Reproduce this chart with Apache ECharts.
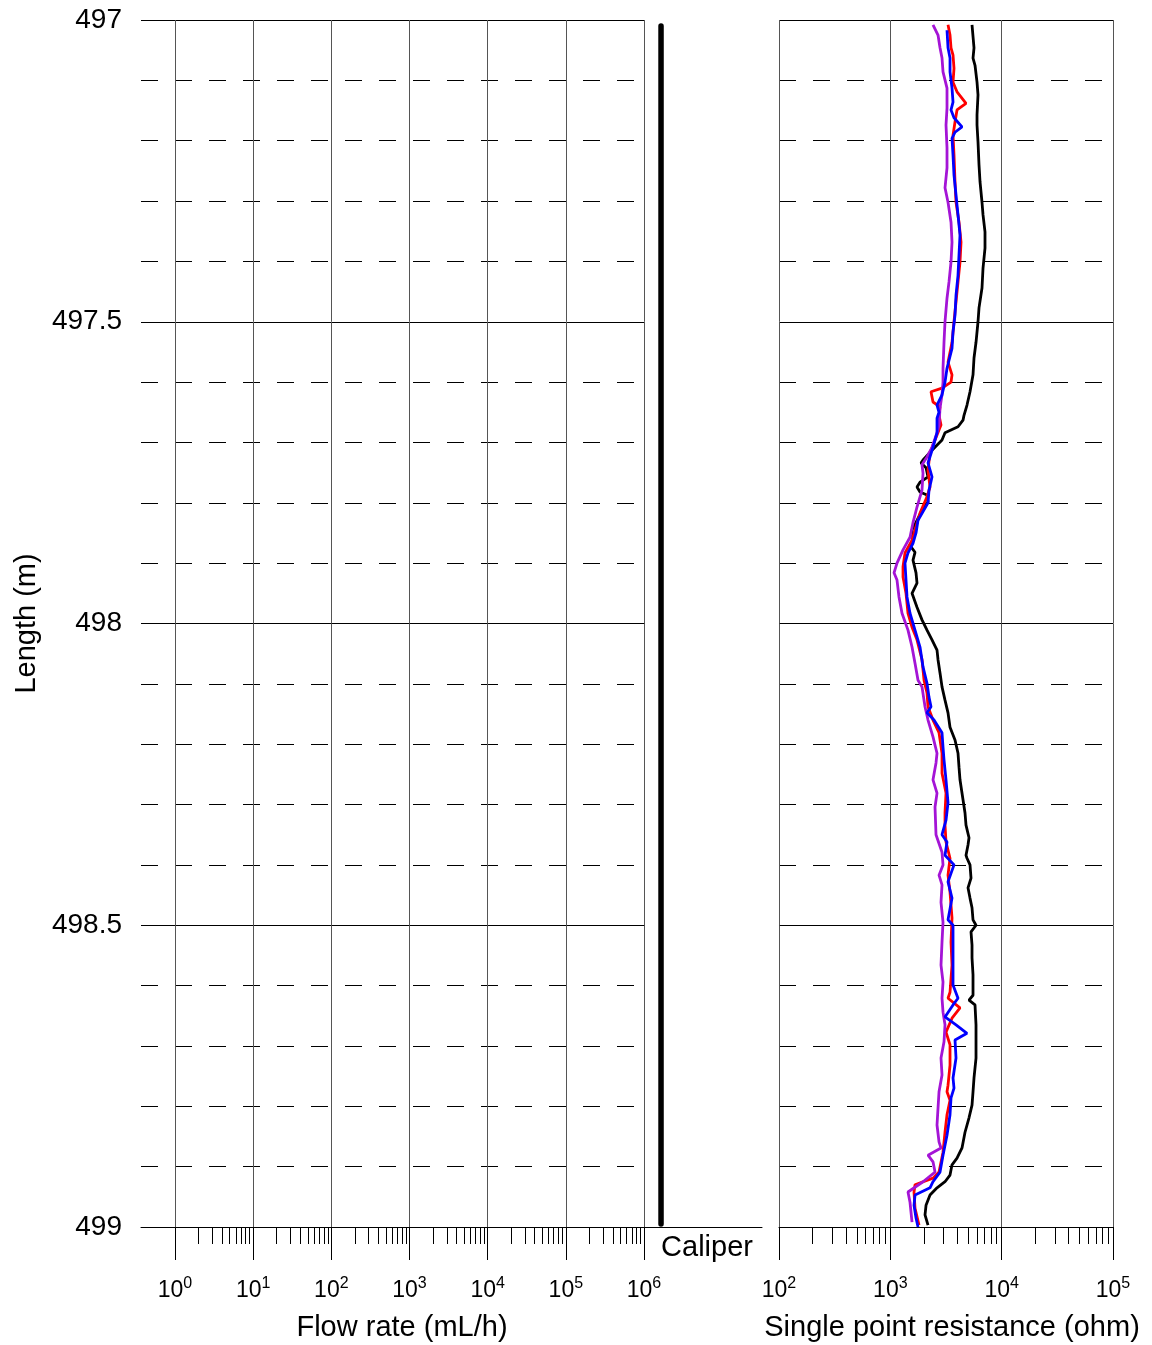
<!DOCTYPE html>
<html>
<head>
<meta charset="utf-8">
<script src="https://cdn.jsdelivr.net/npm/echarts@6/dist/echarts.min.js"></script>
<style>
  html, body { margin: 0; padding: 0; background: #fff; }
  #chart { width: 1152px; height: 1345px; }
</style>
</head>
<body>
<div id="chart"></div>
<script>
// depth (m) / single point resistance (ohm)
const blackDepth = [497.008, 497.046, 497.063, 497.075, 497.103, 497.124, 497.157, 497.174, 497.202, 497.240, 497.268, 497.302, 497.323, 497.351, 497.378, 497.411, 497.444, 497.477, 497.500, 497.534, 497.560, 497.588, 497.616, 497.638, 497.655, 497.663, 497.674, 497.684, 497.696, 497.713, 497.729, 497.734, 497.742, 497.757, 497.766, 497.774, 497.782, 497.787, 497.799, 497.812, 497.829, 497.845, 497.862, 497.873, 497.882, 497.895, 497.916, 497.933, 497.950, 497.973, 497.994, 498.011, 498.027, 498.044, 498.060, 498.082, 498.105, 498.127, 498.148, 498.172, 498.193, 498.215, 498.238, 498.259, 498.292, 498.314, 498.334, 498.355, 498.367, 498.384, 498.389, 498.400, 498.422, 498.438, 498.455, 498.471, 498.491, 498.500, 498.511, 498.533, 498.554, 498.582, 498.616, 498.624, 498.632, 498.665, 498.693, 498.720, 498.753, 498.776, 498.798, 498.819, 498.843, 498.869, 498.886, 498.897, 498.914, 498.925, 498.935, 498.947, 498.964, 498.980, 498.997];
const blackOhm = [5416, 5644, 5529, 5762, 6006, 6131, 6006, 6006, 6131, 6259, 6390, 6658, 6801, 7085, 7085, 6801, 6658, 6259, 6131, 5883, 5644, 5529, 5196, 4883, 4590, 4496, 4054, 3098, 2912, 2368, 1966, 1886, 2092, 2180, 1847, 1736, 1847, 2135, 2180, 1925, 1736, 1566, 1598, 1534, 1666, 1598, 1701, 1736, 1566, 1736, 1925, 2135, 2368, 2626, 2681, 2794, 2912, 3098, 3297, 3436, 3810, 4054, 4139, 4225, 4496, 4686, 4783, 5090, 4985, 4783, 4883, 5196, 5305, 4985, 5196, 5416, 5529, 5883, 5305, 5416, 5416, 5529, 5529, 5090, 5762, 5883, 5883, 5883, 5644, 5529, 5416, 5090, 4686, 4404, 3971, 3581, 3436, 3098, 2626, 2272, 2092, 2049, 2180];

const redDepth = [497.008, 497.025, 497.046, 497.058, 497.080, 497.103, 497.119, 497.138, 497.149, 497.169, 497.191, 497.224, 497.268, 497.302, 497.335, 497.368, 497.401, 497.434, 497.467, 497.500, 497.534, 497.567, 497.588, 497.600, 497.610, 497.616, 497.633, 497.641, 497.655, 497.671, 497.696, 497.717, 497.746, 497.774, 497.790, 497.817, 497.845, 497.862, 497.883, 497.906, 497.923, 497.950, 497.983, 498.006, 498.027, 498.060, 498.094, 498.115, 498.138, 498.160, 498.181, 498.215, 498.248, 498.281, 498.314, 498.334, 498.362, 498.389, 498.417, 498.445, 498.488, 498.528, 498.566, 498.611, 498.621, 498.637, 498.654, 498.677, 498.698, 498.732, 498.765, 498.776, 498.790, 498.814, 498.843, 498.876, 498.909, 498.919, 498.930, 498.942, 498.969, 498.997];
const redOhm = [3297, 3436, 3508, 3656, 3732, 3656, 3971, 4783, 3971, 3810, 3656, 3732, 3810, 3890, 4139, 4314, 4225, 4054, 3890, 3732, 3581, 3297, 3581, 3508, 2912, 2319, 2417, 2794, 2737, 2852, 2520, 2272, 2180, 2272, 2135, 1847, 1666, 1566, 1354, 1300, 1300, 1383, 1441, 1566, 1736, 1925, 2007, 2135, 2180, 2417, 2737, 2912, 2912, 3163, 3098, 3098, 3163, 3436, 3297, 3436, 3581, 3508, 3581, 3436, 3297, 4225, 3581, 3163, 3436, 3436, 3297, 3229, 3436, 3229, 3098, 2973, 2737, 2417, 1666, 1632, 1666, 1810];

const blueDepth = [497.017, 497.046, 497.063, 497.086, 497.113, 497.136, 497.149, 497.162, 497.177, 497.186, 497.196, 497.224, 497.257, 497.290, 497.323, 497.356, 497.389, 497.423, 497.456, 497.489, 497.517, 497.544, 497.577, 497.600, 497.621, 497.638, 497.650, 497.660, 497.684, 497.708, 497.734, 497.757, 497.779, 497.800, 497.829, 497.850, 497.867, 497.883, 497.900, 497.928, 497.956, 497.983, 498.011, 498.039, 498.072, 498.099, 498.122, 498.138, 498.148, 498.160, 498.181, 498.205, 498.226, 498.259, 498.297, 498.326, 498.350, 498.362, 498.384, 498.400, 498.428, 498.455, 498.491, 498.500, 498.528, 498.566, 498.599, 498.621, 498.632, 498.652, 498.665, 498.679, 498.690, 498.720, 498.753, 498.770, 498.786, 498.814, 498.848, 498.881, 498.909, 498.925, 498.935, 498.947, 498.964, 498.985, 499.000];
const blueOhm = [3229, 3297, 3436, 3436, 3581, 3656, 3508, 3732, 4404, 3810, 3581, 3656, 3732, 3890, 4054, 4225, 4139, 4054, 3890, 3810, 3656, 3581, 3229, 3098, 2912, 2626, 2737, 2626, 2626, 2417, 2180, 2368, 2225, 2180, 1773, 1701, 1598, 1441, 1354, 1383, 1412, 1502, 1666, 1847, 1966, 2135, 2225, 2319, 2135, 2468, 2912, 2973, 3035, 3163, 3297, 3163, 2912, 3229, 3098, 3732, 3297, 3581, 3297, 3656, 3656, 3656, 3656, 4054, 3656, 3098, 3890, 4883, 3810, 3890, 3656, 3732, 3508, 3436, 3229, 2973, 2794, 2417, 2272, 1666, 1632, 1701, 1773];

const purpleDepth = [497.008, 497.025, 497.046, 497.063, 497.086, 497.113, 497.146, 497.174, 497.212, 497.245, 497.278, 497.302, 497.335, 497.368, 497.401, 497.434, 497.461, 497.500, 497.534, 497.577, 497.600, 497.621, 497.643, 497.671, 497.684, 497.708, 497.724, 497.737, 497.751, 497.779, 497.807, 497.833, 497.857, 497.878, 497.900, 497.916, 497.928, 497.956, 497.983, 498.011, 498.039, 498.066, 498.094, 498.105, 498.138, 498.160, 498.188, 498.215, 498.231, 498.259, 498.281, 498.304, 498.350, 498.379, 498.400, 498.417, 498.433, 498.462, 498.495, 498.528, 498.566, 498.594, 498.621, 498.644, 498.665, 498.693, 498.720, 498.748, 498.776, 498.803, 498.831, 498.859, 498.869, 498.881, 498.892, 498.909, 498.925, 498.942, 498.959, 498.992];
const purpleOhm = [2417, 2681, 2794, 2912, 2973, 3229, 3229, 3163, 3229, 3229, 3098, 3297, 3508, 3581, 3508, 3365, 3229, 3098, 3035, 2973, 2973, 2912, 2794, 2737, 2626, 2368, 2135, 1925, 1966, 1925, 1736, 1598, 1502, 1300, 1148, 1079, 1148, 1196, 1273, 1441, 1566, 1666, 1773, 1925, 2049, 2180, 2417, 2626, 2572, 2417, 2626, 2520, 2572, 2912, 2973, 2737, 2912, 2852, 2973, 2912, 2852, 2973, 2912, 2973, 3098, 3035, 2852, 2912, 2737, 2681, 2626, 2737, 2852, 2180, 2417, 2520, 1966, 1441, 1502, 1566];

// caliper trace (constant)
const caliperDepth = [497.010, 498.995];
const caliperValue = [0.137, 0.137];

// axis ranges / ticks
const depthRange = [497, 499];
const flowRange = [1, 1e6];
const spRange = [100, 1e5];
const minorMant = [2, 3, 4, 5, 6, 7, 8, 9];

const FONT = '"Liberation Sans", Arial, Helvetica, sans-serif';

function pairs(xs, ys) {
  let out = [];
  for (let i = 0; i < Math.min(xs.length, ys.length); i++) out.push([xs[i], ys[i]]);
  return out;
}

function minorValues(lo, hi) {
  let out = [];
  for (let e = lo; e < hi; e++) {
    minorMant.forEach(m => out.push(m * Math.pow(10, e)));
  }
  return out;
}

function powLabel(v) {
  let n = Math.round(Math.log10(v));
  return '{b|10}{s|' + n + '}';
}

const powRich = {
  b: {fontSize: 23, fontFamily: FONT, color: '#000', lineHeight: 30},
  s: {fontSize: 16, fontFamily: FONT, color: '#000', lineHeight: 15, verticalAlign: 'top'}
};

const vLine = {show: true, lineStyle: {color: '#555', width: 1}};
const hSolid = {show: true, lineStyle: {color: '#000', width: 1}};
const hDash = {show: true, lineStyle: {color: '#000', width: 1, type: [17, 17]}};

function depthAxis(grid, withLabels) {
  return {
    gridIndex: grid,
    type: 'value',
    inverse: true,
    min: depthRange[0],
    max: depthRange[1],
    interval: 0.5,
    axisLine: {show: false},
    axisTick: {show: false},
    minorTick: {show: false, splitNumber: 5},
    axisLabel: withLabels
      ? {show: true, fontSize: 28, fontFamily: FONT, color: '#000', margin: 19}
      : {show: false},
    splitLine: hSolid,
    minorSplitLine: hDash
  };
}

function hiddenAxis(grid) {
  return {gridIndex: grid, type: 'value', inverse: true, min: depthRange[0], max: depthRange[1], show: false};
}

function logAxis(grid, range, name, namePad, line) {
  return {
    gridIndex: grid,
    type: 'log',
    logBase: 10,
    min: range[0],
    max: range[1],
    position: 'bottom',
    axisLine: {show: line, lineStyle: {color: '#000', width: 1}},
    axisTick: {show: true, length: 33, lineStyle: {color: '#000', width: 1}},
    axisLabel: {margin: 49, formatter: powLabel, rich: powRich},
    splitLine: vLine,
    name: name,
    nameLocation: 'middle',
    nameGap: 86,
    nameTextStyle: {fontSize: 29, fontFamily: FONT, color: '#000', padding: namePad}
  };
}

function minorAxis(grid, range, lo, hi) {
  return {
    gridIndex: grid,
    type: 'log',
    logBase: 10,
    min: range[0],
    max: range[1],
    position: 'bottom',
    axisLine: {show: false},
    axisTick: {show: true, length: 17, customValues: minorValues(lo, hi), lineStyle: {color: '#000', width: 1}},
    axisLabel: {show: false},
    splitLine: {show: false}
  };
}

let option = {
  animation: false,
  backgroundColor: '#fff',
  grid: [
    {left: 141, top: 20, width: 504, height: 1207, outerBoundsMode: 'none'},
    {left: 175, top: 20, width: 469, height: 1207, outerBoundsMode: 'none'},
    {left: 645, top: 20, width: 117, height: 1207, outerBoundsMode: 'none'},
    {left: 779, top: 20, width: 334, height: 1207, outerBoundsMode: 'none'}
  ],
  xAxis: [
    {
      gridIndex: 0, type: 'value', min: 0, max: 1,
      axisLine: {show: true, lineStyle: {color: '#000', width: 1}},
      axisTick: {show: false}, axisLabel: {show: false}, splitLine: {show: false}
    },
    logAxis(1, flowRange, 'Flow rate (mL/h)', [0, 15, 0, 0], false),
    minorAxis(1, flowRange, 0, 6),
    {
      gridIndex: 2, type: 'value', min: 0, max: 1,
      axisLine: {show: true, lineStyle: {color: '#000', width: 1}},
      axisTick: {show: false}, axisLabel: {show: false}, splitLine: {show: false},
      name: 'Caliper', nameLocation: 'middle', nameGap: 6,
      nameTextStyle: {fontSize: 29, fontFamily: FONT, color: '#000', padding: [0, 0, 0, 7]}
    },
    logAxis(3, spRange, 'Single point resistance (ohm)', [0, 0, 0, 12], true),
    minorAxis(3, spRange, 2, 5)
  ],
  yAxis: [
    Object.assign(depthAxis(0, true), {
      name: 'Length (m)',
      nameLocation: 'middle',
      nameGap: 100,
      nameTextStyle: {fontSize: 29, fontFamily: FONT, color: '#000'}
    }),
    hiddenAxis(1),
    hiddenAxis(2),
    depthAxis(3, false)
  ],
  series: [
    {
      type: 'line', xAxisIndex: 3, yAxisIndex: 2,
      data: pairs(caliperValue, caliperDepth),
      showSymbol: false,
      lineStyle: {color: '#000', width: 5.5, cap: 'round'}
    },
    {
      type: 'line', xAxisIndex: 4, yAxisIndex: 3, name: 'black',
      data: pairs(blackOhm, blackDepth), showSymbol: false,
      lineStyle: {color: '#000', width: 2.8}
    },
    {
      type: 'line', xAxisIndex: 4, yAxisIndex: 3, name: 'red',
      data: pairs(redOhm, redDepth), showSymbol: false,
      lineStyle: {color: '#ff0000', width: 2.8}
    },
    {
      type: 'line', xAxisIndex: 4, yAxisIndex: 3, name: 'purple',
      data: pairs(purpleOhm, purpleDepth), showSymbol: false,
      lineStyle: {color: '#a414d6', width: 2.8}
    },
    {
      type: 'line', xAxisIndex: 4, yAxisIndex: 3, name: 'blue',
      data: pairs(blueOhm, blueDepth), showSymbol: false,
      lineStyle: {color: '#0000ff', width: 2.8}
    }
  ]
};

let myChart = echarts.init(document.getElementById('chart'), null, {renderer: 'canvas'});
myChart.setOption(option);
</script>
</body>
</html>
